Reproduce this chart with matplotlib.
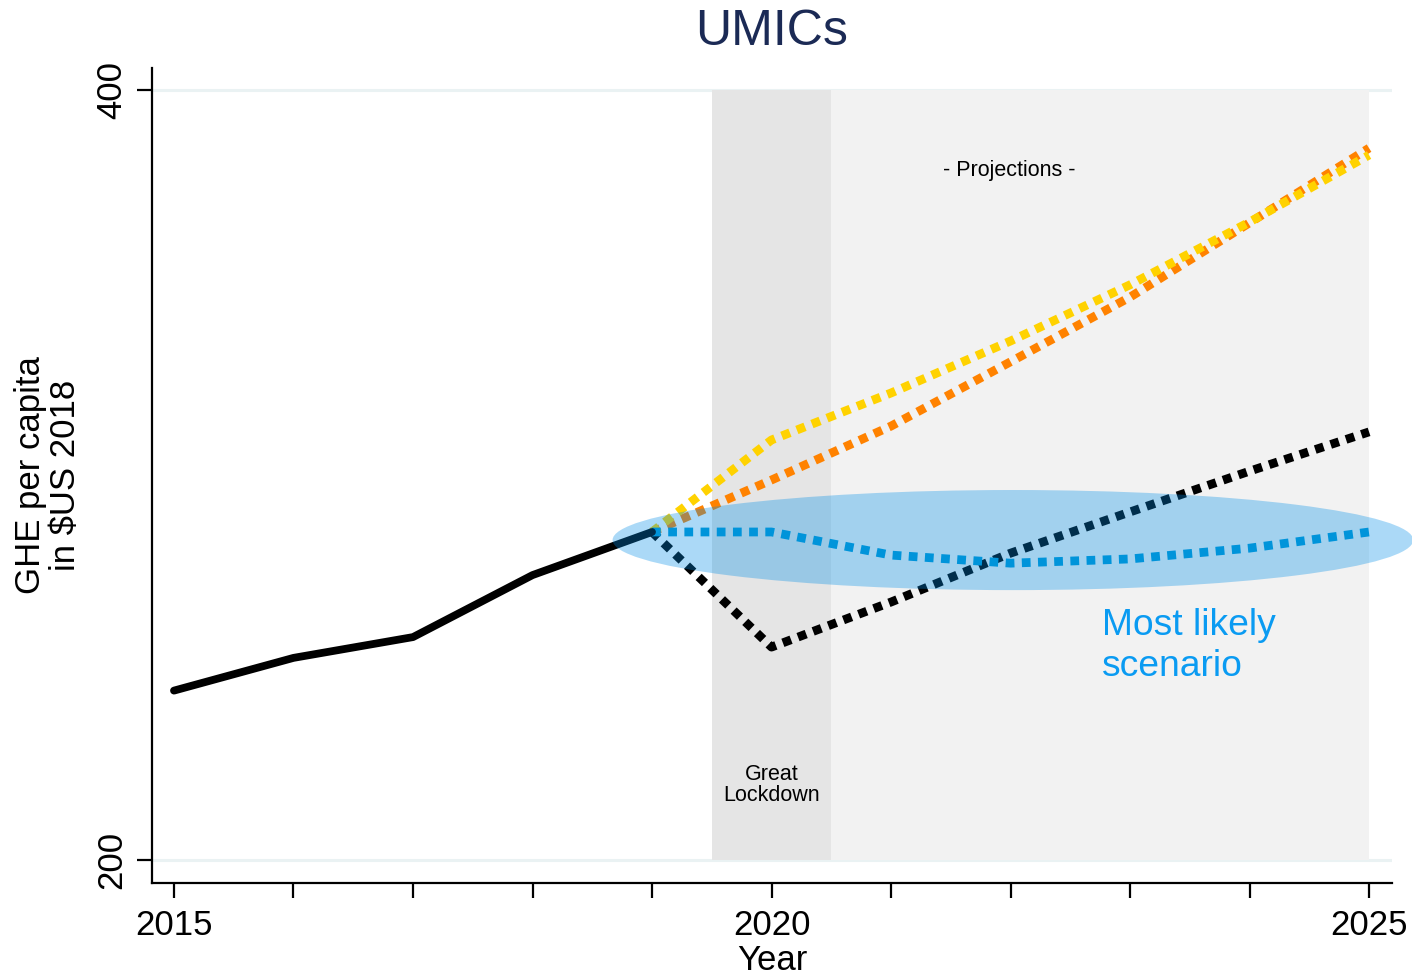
import matplotlib
matplotlib.use("Agg")
import matplotlib.pyplot as plt
from matplotlib.patches import Ellipse, Rectangle

plt.rcParams['font.family'] = ['Liberation Sans', 'DejaVu Sans']

# ---- data ----
hist_years = [2015, 2016, 2017, 2018, 2019]
hist_vals = [244.0, 252.5, 257.9, 274.0, 285.2]

proj_years = [2019, 2020, 2021, 2022, 2023, 2024, 2025]
yellow_vals = [285.2, 309.1, 321.3, 334.8, 349.4, 365.7, 383.1]
orange_vals = [285.2, 298.7, 312.7, 329.4, 346.2, 365.5, 384.9]
black_vals = [285.2, 255.3, 267.0, 279.7, 290.4, 301.0, 311.2]
blue_vals = [285.2, 285.2, 279.2, 277.1, 278.2, 281.0, 285.2]

xticks_major = [2015, 2020, 2025]
xticks_minor = [2016, 2017, 2018, 2019, 2021, 2022, 2023, 2024]
yticks = [200, 400]

lockdown_span = (2019.5, 2020.5)
projection_span = (2020.5, 2025.0)

# ---- figure ----
fig = plt.figure(figsize=(14.12, 9.77), dpi=100)
ax = fig.add_axes([152/1412, 1-883/977, (1392-152)/1412, (883-68)/977])
ax.set_xlim(2014.816, 2025.192)
ax.set_ylim(194.03, 405.71)

# gridlines
for yv in yticks:
    ax.axhline(yv, color='#EAF2F3', lw=2.2, zorder=0)

# shaded spans
ax.add_patch(Rectangle((projection_span[0], 200), projection_span[1]-projection_span[0], 200,
                       facecolor='#F2F2F2', edgecolor='none', zorder=0.5))
ax.add_patch(Rectangle((lockdown_span[0], 200), lockdown_span[1]-lockdown_span[0], 200,
                       facecolor='#E5E5E5', edgecolor='none', zorder=0.6))

dot = (0, (1.0, 0.85))
lw_dot = 6.3
ax.plot(proj_years, black_vals, color='black', lw=lw_dot, ls=dot, zorder=3)
ax.plot(proj_years, orange_vals, color='#FF8200', lw=lw_dot, ls=dot, zorder=3)
ax.plot(proj_years, yellow_vals, color='#FFD200', lw=lw_dot, ls=dot, zorder=3)
ax.plot(proj_years, blue_vals, color='#0097D4', lw=lw_dot, ls=dot, zorder=3)
ax.plot(hist_years, hist_vals, color='black', lw=5.6, solid_capstyle='round',
        solid_joinstyle='round', zorder=4)

# ellipse
ell = Ellipse((2022.02, 283.1), 6.7, 26.0, facecolor=(0/255, 142/255, 232/255),
              alpha=0.33, edgecolor='none', zorder=5, clip_on=False)
ax.add_patch(ell)

# annotations
ax.text(2021.99, 379.1, '- Projections -', ha='center', va='center', fontsize=15.5, zorder=6)
ax.text(2020.0, 219.5, 'Great\nLockdown', ha='center', va='center', fontsize=15.5,
        linespacing=1.0, zorder=6)
ax.text(2025 - (1369-1102)/119.5, 255.6, 'Most likely\nscenario', ha='left', va='center',
        fontsize=26.8, color='#0A9BF2', linespacing=1.2, zorder=6)

# axes styling
for s in ['top', 'right']:
    ax.spines[s].set_visible(False)
for s in ['left', 'bottom']:
    ax.spines[s].set_linewidth(1.6)

ax.set_xticks(xticks_major)
ax.set_xticks(xticks_minor, minor=True)
ax.set_xticklabels([str(v) for v in xticks_major])
ax.tick_params(axis='x', which='both', length=11, width=1.6, direction='out', pad=8, labelsize=25)
ax.set_yticks(yticks)
ax.set_yticklabels([str(v) for v in yticks], rotation=90, va='center')
ax.tick_params(axis='y', length=11, width=1.6, direction='out', pad=6, labelsize=25)

fig.text(772/1412, 1-32/977, 'UMICs', ha='center', va='center', fontsize=36, color='#1B2A55')
fig.text(772/1412, 1-960/977, 'Year', ha='center', va='center', fontsize=25)
fig.text(48/1412, 1-475/977, 'GHE per capita\nin $US 2018', ha='center', va='center',
         rotation=90, fontsize=25, linespacing=1.1, multialignment='center')

fig.savefig('out.png', dpi=100)
